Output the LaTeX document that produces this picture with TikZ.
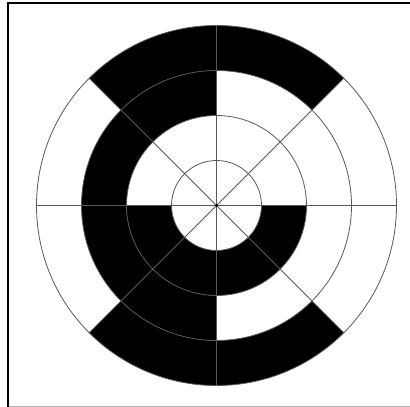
\documentclass[tikz,border=0pt]{standalone}
\usetikzlibrary{calc}
\begin{document}
\begin{tikzpicture}[x=1pt,y=1pt,
  grid/.style={draw=black!65,line width=0.8pt},
  seg/.style={fill=black}]
\useasboundingbox (0,0) rectangle (410,407);
\fill[white] (0,0) rectangle (410,407);
\coordinate (c) at (216.5,201.5);
% black annular sectors: inner radius, outer radius, start, end
\foreach \ri/\ro/\a/\b in {45/90/180/360, 90/135/90/270, 135/180/45/135, 135/180/225/315}{
  \fill[seg] ($(c)+(\a:\ro)$) arc[start angle=\a,end angle=\b,radius=\ro]
    -- ($(c)+(\b:\ri)$) arc[start angle=\b,end angle=\a,radius=\ri] -- cycle;
}
% rings
\foreach \r in {45,90,135,180}{
  \draw[grid] (c) circle[radius=\r];
}
% spokes
\foreach \a in {0,45,...,315}{
  \draw[grid] (c) -- ($(c)+(\a:180)$);
}
\fill[black] (c) circle[radius=1.5];
% frame
\draw[line width=2pt,black] (8,0) -- (8,404) -- (410,404);
\draw[line width=0.8pt,black!30] (9,1) -- (410,1);
\end{tikzpicture}
\end{document}
